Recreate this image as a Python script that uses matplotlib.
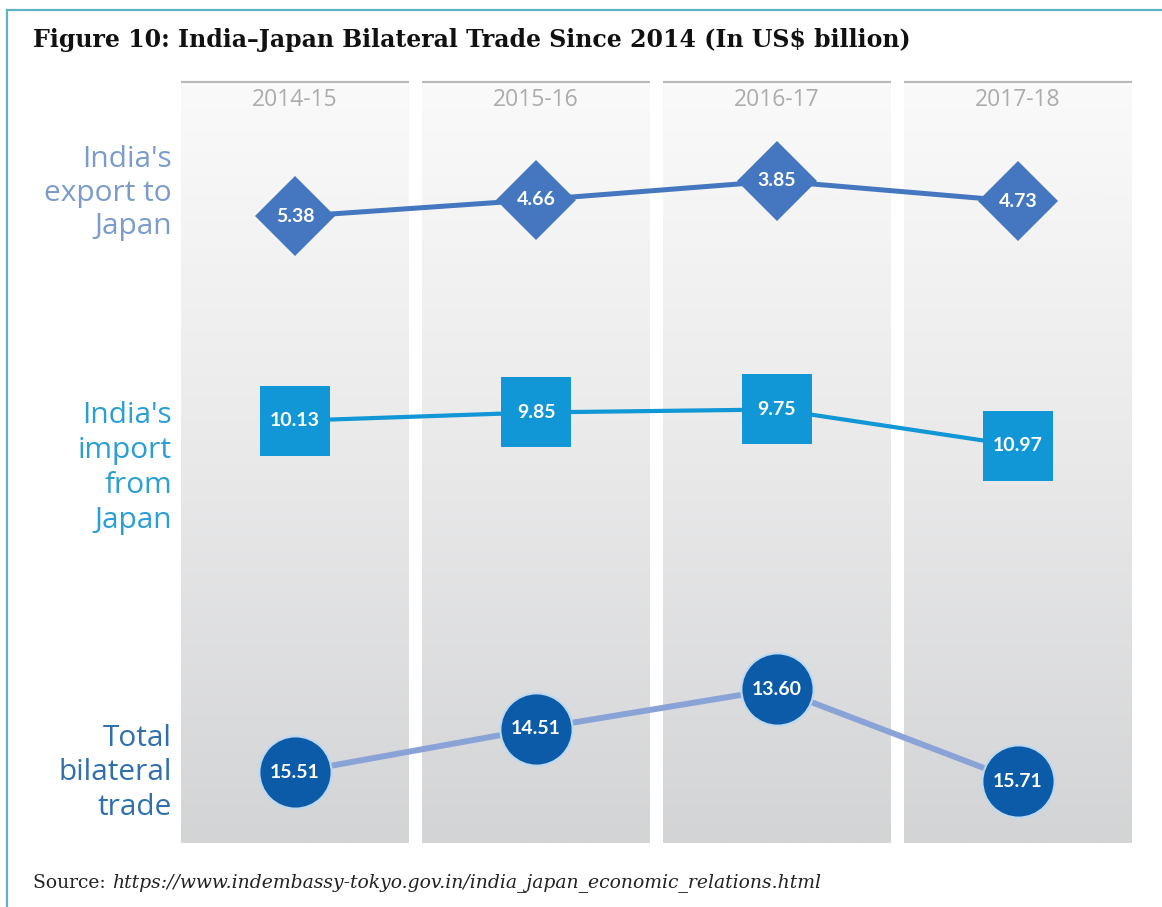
import matplotlib.pyplot as plt
import numpy as np
from matplotlib.colors import LinearSegmentedColormap

years = ['2014-15', '2015-16', '2016-17', '2017-18']
export_to_japan = [5.38, 4.66, 3.85, 4.73]
import_from_japan = [10.13, 9.85, 9.75, 10.97]
total_trade = [15.51, 14.51, 13.60, 15.71]

W, H = 1162, 907
fig = plt.figure(figsize=(W / 100, H / 100), dpi=100)
fig.patch.set_facecolor('white')


def box(left, top, right, bottom):
    # pixel box (from top-left) -> figure fraction
    return [left / W, 1 - bottom / H, (right - left) / W, (bottom - top) / H]


x = np.arange(len(years))

## background columns with gradient
bg = fig.add_axes(box(174.5, 82, 1138.5, 843))
cmap = LinearSegmentedColormap.from_list('cols', ['#fafafa', '#e9e9ea', '#d3d4d6'])
grad = np.linspace(0, 1, 256).reshape(-1, 1)
half = 0.473
for i in x:
    bg.imshow(grad, extent=(i - half, i + half, 0, 0.995), cmap=cmap,
              aspect='auto', origin='upper', zorder=0)
    bg.plot([i - half, i + half], [1, 1], color='#b8b8b8', lw=1.6,
            solid_capstyle='butt', clip_on=False)
    bg.text(i, 0.976, years[i], ha='center', va='center', fontsize=16.5,
            color='#acacac', family='Open Sans')
bg.set_xlim(-0.5, 3.5)
bg.set_ylim(0, 1)
bg.axis('off')

## the three series, each in its own band (values run downwards)
series = [
    (export_to_japan, (120, 300), (8.979, 1.221), 'D', 41, '#4477bf', '#4477bf', 3.6, '#4477bf', 0),
    (import_from_japan, (330, 530), (13.808, 7.074), 's', 51, '#1196d6', '#1196d6', 3.0, '#1196d6', 0),
    (total_trade, (620, 860), (17.522, 12.017), 'o', 52, '#0b5ba8', '#bcd9f0', 4.3, '#8aa3d7', 1.5),
]
for vals, (top, bottom), ylim, mk, ms, fc, ec, lw, lc, mew in series:
    ax = fig.add_axes(box(174.5, top, 1138.5, bottom))
    ax.plot(x, vals, color=lc, lw=lw, zorder=2, clip_on=False)
    ax.plot(x, vals, linestyle='none', marker=mk, ms=ms, mfc=fc, mec=ec,
            mew=mew, zorder=3, clip_on=False)
    for xi, v in zip(x, vals):
        ax.text(xi, v, f'{v:.2f}', ha='center', va='center', color='white',
                fontsize=14, fontweight='bold', family='Lato', zorder=4)
    ax.set_xlim(-0.5, 3.5)
    ax.set_ylim(*ylim)
    ax.axis('off')

## row labels
fig.text(172 / W, 1 - 193 / H, "India's\nexport to\nJapan", ha='right', va='center',
         multialignment='right', fontsize=21.5, color='#7b9ccb', family='Open Sans', linespacing=1.2)
fig.text(172 / W, 1 - 468 / H, "India's\nimport\nfrom\nJapan", ha='right', va='center',
         multialignment='right', fontsize=21.5, color='#2a9fd6', family='Open Sans', linespacing=1.27)
fig.text(172 / W, 1 - 773 / H, "Total\nbilateral\ntrade", ha='right', va='center',
         multialignment='right', fontsize=21.5, color='#3070ae', family='Open Sans', linespacing=1.23)

## title and source
fig.text(33 / W, 1 - 40 / H, 'Figure 10: India\u2013Japan Bilateral Trade Since 2014 (In US$ billion)',
         ha='left', va='center', fontsize=17, fontweight='bold', family='DejaVu Serif', color='#111111')
src = fig.text(33 / W, 1 - 883 / H, 'Source: ', ha='left', va='center', fontsize=13.5,
               family='DejaVu Serif', color='#222222')
fig.add_artist(plt.Annotation('https://www.indembassy-tokyo.gov.in/india_japan_economic_relations.html',
                              xy=(1, 0.5), xycoords=src, ha='left', va='center', fontsize=13.5,
                              family='DejaVu Serif', style='italic', color='#222222'))

## border
fig.add_artist(plt.Line2D([7 / W, 7 / W], [0, 1 - 10 / H], color='#5fb3c3', lw=1.6))
fig.add_artist(plt.Line2D([7 / W, 1], [1 - 10 / H, 1 - 10 / H], color='#5fb3c3', lw=1.6))

plt.savefig('out.png', dpi=100)
